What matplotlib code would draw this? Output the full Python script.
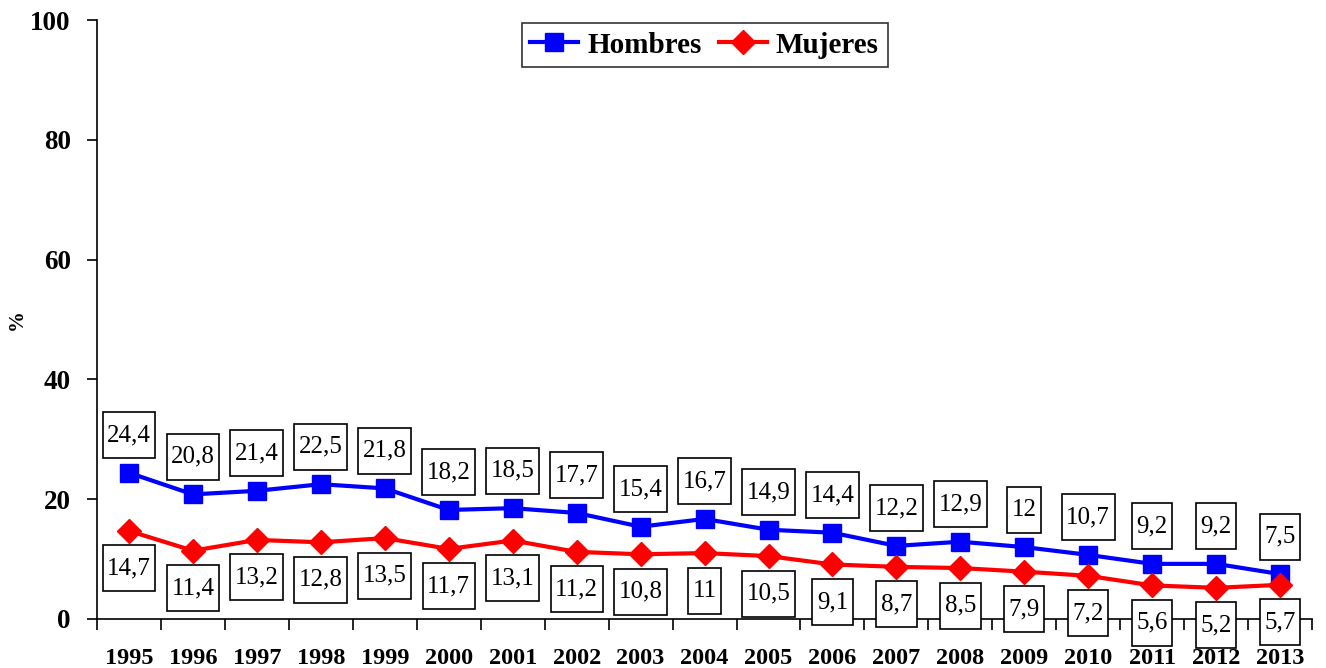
import numpy as np
import matplotlib.pyplot as plt
from matplotlib.path import Path

plt.rcParams['font.family'] = ['Liberation Serif', 'DejaVu Serif']

years = list(range(1995, 2014))
hombres = [24.4, 20.8, 21.4, 22.5, 21.8, 18.2, 18.5, 17.7, 15.4, 16.7,
           14.9, 14.4, 12.2, 12.9, 12.0, 10.7, 9.2, 9.2, 7.5]
mujeres = [14.7, 11.4, 13.2, 12.8, 13.5, 11.7, 13.1, 11.2, 10.8, 11.0,
           10.5, 9.1, 8.7, 8.5, 7.9, 7.2, 5.6, 5.2, 5.7]


def fmt(v):
    # decimal comma, drop ".0"
    s = f'{v:g}'
    return s.replace('.', ',')


def label_box(x0, y0, width, height, mutation_size):
    # rectangle with less padding at the sides than above/below
    px = 0.18 * mutation_size
    py = 0.48 * mutation_size
    x0, x1 = x0 - px, x0 + width + px
    y0, y1 = y0 - py, y0 + height + py
    return Path([(x0, y0), (x1, y0), (x1, y1), (x0, y1), (x0, y0)], closed=True)


fig = plt.figure(figsize=(13.26, 6.68), dpi=100)
ax = fig.add_axes([0.0732, 0.0734, 0.9163, 0.8966])

x = np.arange(len(years))
ax.plot(x, hombres, color='blue', lw=3, marker='s', ms=13, label='Hombres', zorder=3)
ax.plot(x, mujeres, color='red', lw=3, marker='D', ms=12, label='Mujeres', zorder=3)

box = dict(boxstyle=label_box, fc='white', ec='black', lw=1.2)
for xi, h, m in zip(x, hombres, mujeres):
    ax.annotate(fmt(h), (xi, h), xytext=(0, 27), textcoords='offset points',
                ha='center', va='center', fontsize=18, bbox=box, zorder=5,
                annotation_clip=False)
    ax.annotate(fmt(m), (xi, m), xytext=(0, -27), textcoords='offset points',
                ha='center', va='center', fontsize=18, bbox=box, zorder=5,
                annotation_clip=False)

ax.set_xlim(-0.5, len(years) - 0.5)
ax.set_ylim(0, 100)
ax.set_yticks(range(0, 101, 20))
ax.tick_params(axis='y', labelsize=19.5, direction='out', length=7, width=1.2, pad=12)
for lab in ax.get_yticklabels():
    lab.set_fontweight('bold')

ax.set_xticks(x)
ax.set_xticklabels([str(y) for y in years], fontsize=17.5, fontweight='bold')
ax.set_xticks(np.arange(-0.5, len(years)), minor=True)
ax.tick_params(axis='x', which='major', length=0, pad=21)
ax.tick_params(axis='x', which='minor', direction='out', length=8, width=1.2)

for side in ('top', 'right'):
    ax.spines[side].set_visible(False)
for side in ('left', 'bottom'):
    ax.spines[side].set_linewidth(1.2)

ax.set_ylabel('%', fontsize=15, fontweight='bold')
ax.yaxis.set_label_coords(-0.058, 0.5)

leg = ax.legend(loc='upper center', bbox_to_anchor=(0.5, 1.0), ncol=2,
                prop={'size': 21, 'weight': 'bold'}, frameon=True, fancybox=False,
                edgecolor='black', handlelength=1.65, columnspacing=0.6,
                handletextpad=0.3, borderpad=0.3, borderaxespad=0.1)
leg.get_frame().set_linewidth(1.2)

fig.savefig('out.png', dpi=100)
